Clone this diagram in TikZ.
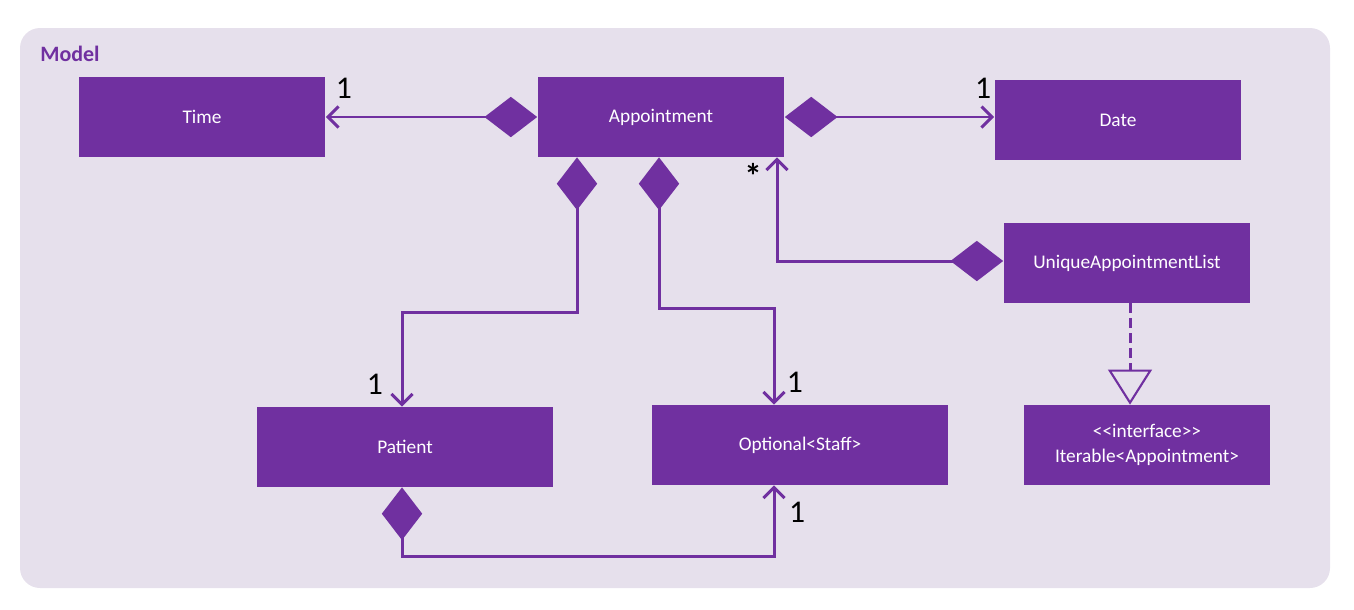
\documentclass[tikz,border=0pt]{standalone}
\usepackage{fontspec}
\setmainfont{Carlito}
\usetikzlibrary{arrows.meta}
\definecolor{umlpurple}{HTML}{7030A0}
\definecolor{modelbg}{HTML}{E6E0EC}
\tikzset {
  % class box
  class/.style = {
    fill = umlpurple,
    text = white,
    minimum width = 4.94cm,
    minimum height = 1.6cm,
    inner sep = 0,
    align = center,
    font = \fontsize{11}{14}\selectfont
  },
  wide class/.style = {
    class,
    minimum width = 5.93cm
  },
  % multiplicity label
  mult/.style = {
    text = black,
    inner sep = 0,
    font = \fontsize{18}{20}\selectfont
  },
  link/.style = {
    draw = umlpurple,
    line width = 1.7pt
  },
  % composition: filled diamond at the owner, open arrow at the part
  comp/.style = {
    link,
    {Diamond[length=30pt,width=23pt]}-{Straight Barb[length=6pt,width=12pt]}
  },
  % realization of an interface
  realize/.style = {
    link,
    dash pattern = on 5.5pt off 3pt,
    -{Triangle[open,length=20pt,width=25pt,fill=modelbg,line width=1.2pt]}
  }
}
\begin{document}
\begin{tikzpicture}[x=0.02cm, y=-0.02cm]
    \useasboundingbox (0,0) rectangle (1354,609);
    \fill[modelbg, rounded corners=0.4cm] (20,28) rectangle (1330,588);
    \node[anchor=base west, inner sep=0, text=umlpurple, font=\bfseries\fontsize{12.5}{14}\selectfont] (model) at (40,61) {Model};

    \node[class] (time) at (202,117) {Time};
    \node[class] (appt) at (661,117) {Appointment};
    \node[class] (date) at (1118,120) {Date};
    \node[class] (list) at (1127,263) {UniqueAppointmentList};
    \node[class] (iter) at (1147,445) {<{}<interface>{}>\\Iterable<Appointment>};
    \node[wide class] (pat) at (405,447) {Patient};
    \node[wide class] (staff) at (800,445) {Optional<Staff>};

    \coordinate (pat-bend) at (577,312);
    \coordinate (pat-drop) at (402,312);
    \coordinate (staff-bend) at (659,308);
    \coordinate (staff-drop) at (774,308);
    \coordinate (list-bend) at (777,261);
    \coordinate (pat-low) at (402,556);
    \coordinate (staff-low) at (774,556);
    \coordinate (real-col) at (1130,0);

    \draw[comp] (appt.west) -- (time.east);
    \draw[comp] (appt.east) -- (appt.east -| date.west);

    \draw[comp] (appt.south -| pat-bend)
    -- (pat-bend)
    -- (pat-drop)
    -- (pat.north -| pat-drop);

    \draw[comp] (appt.south -| staff-bend)
    -- (staff-bend)
    -- (staff-drop)
    -- (staff.north -| staff-drop);

    \draw[comp] (list.west |- list-bend)
    -- (list-bend)
    -- (appt.south -| list-bend);

    \draw[comp] (pat.south -| pat-low)
    -- (pat-low)
    -- (staff-low)
    -- (staff.south -| staff-low);

    \draw[realize] (list.south -| real-col) -- (iter.north -| real-col);

    \node[mult] (m-time) at (344,88) {1};
    \node[mult] (m-date) at (983,88) {1};
    \node[mult] (m-pat) at (375,384) {1};
    \node[mult] (m-staff) at (795,382) {1};
    \node[mult] (m-staff-low) at (797,512) {1};
    \node[mult, font=\bfseries\fontsize{20}{22}\selectfont] (m-list) at (753,176) {*};
  \end{tikzpicture}
\end{document}
